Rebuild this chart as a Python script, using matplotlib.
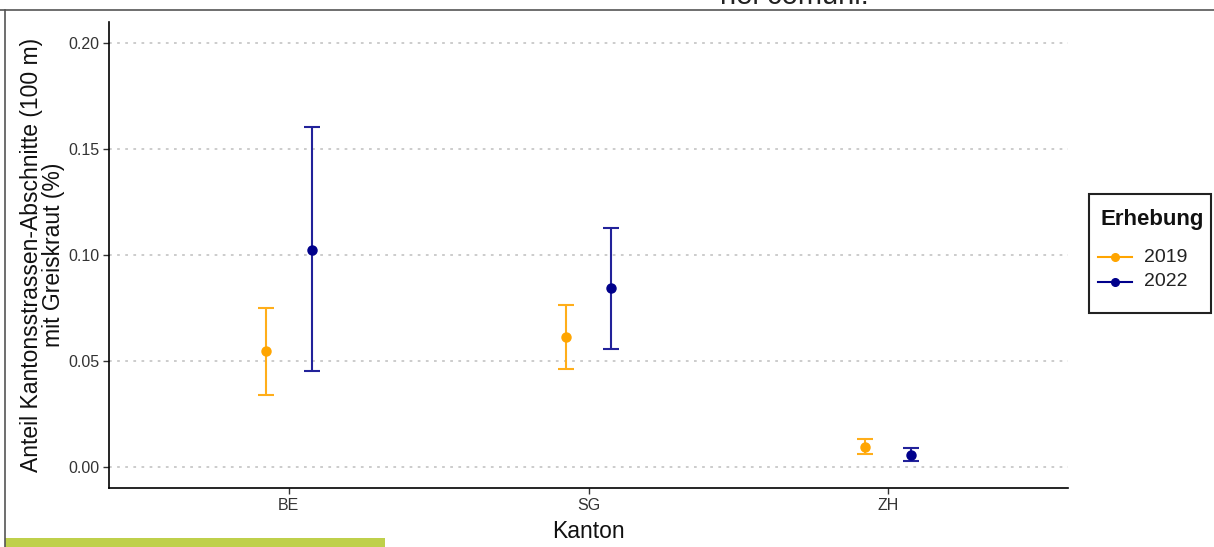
import matplotlib
matplotlib.use("Agg")
import matplotlib.pyplot as plt
from matplotlib.lines import Line2D
from matplotlib.patches import Rectangle
import numpy as np

plt.rcParams['font.family'] = ['Liberation Sans', 'DejaVu Sans']

kantone = ["BE", "SG", "ZH"]
jahre = ["2019", "2022"]
werte_2019 = [0.0547, 0.0613, 0.0095]
unten_2019 = [0.0339, 0.0463, 0.0062]
oben_2019 = [0.0752, 0.0762, 0.0130]
werte_2022 = [0.1024, 0.0842, 0.0058]
unten_2022 = [0.0452, 0.0557, 0.0026]
oben_2022 = [0.1605, 0.1128, 0.0090]
y_ticks = [0.00, 0.05, 0.10, 0.15, 0.20]
y_ticklabels = ["0.00", "0.05", "0.10", "0.15", "0.20"]

farben = {"2019": "#FFA500", "2022": "#00008B"}
linienfarben = {"2019": "#FFAE1A", "2022": "#22229A"}

W, H = 1214, 547
fig = plt.figure(figsize=(W / 100, H / 100), dpi=100)
ax = fig.add_axes([109 / W, 1 - 488 / H, (1068 - 109) / W, (488 - 22) / H])

x = np.arange(1, len(kantone) + 1)
dodge = 0.076
series = [
    ("2019", werte_2019, unten_2019, oben_2019, -dodge),
    ("2022", werte_2022, unten_2022, oben_2022, dodge),
]
for jahr, w, lo, hi, off in series:
    w = np.array(w); lo = np.array(lo); hi = np.array(hi)
    ax.errorbar(x + off, w, yerr=[w - lo, hi - w], fmt="o", color=farben[jahr],
                ecolor=linienfarben[jahr], elinewidth=1.5, capsize=5.5, capthick=1.5,
                markersize=6.5, zorder=3)

ax.set_xlim(0.4, 3.6)
ax.set_ylim(-0.01, 0.21)
ax.set_xticks(x)
ax.set_xticklabels(kantone, fontsize=11.5, color="#333333")
ax.set_yticks(y_ticks)
ax.set_yticklabels(y_ticklabels, fontsize=11.5, color="#333333")
ax.tick_params(axis="both", length=4, width=1, color="#333333", pad=3)
for yt in y_ticks:
    ax.axhline(yt, color="#C8C8C8", linewidth=1.3, linestyle=(0, (1.5, 3)), zorder=1)
for s in ["top", "right"]:
    ax.spines[s].set_visible(False)
for s in ["left", "bottom"]:
    ax.spines[s].set_linewidth(1.2)
    ax.spines[s].set_color("black")

ax.set_xlabel("Kanton", fontsize=16.5, labelpad=5, color="#111111")
ax.set_ylabel("Anteil Kantonsstrassen-Abschnitte (100 m)\nmit Greiskraut (%)",
              fontsize=16.5, labelpad=2, linespacing=0.95, color="#111111")

# legend drawn manually in figure pixel coordinates
def fx(px):
    return px / W

def fy(py):
    return 1 - py / H

fig.add_artist(Rectangle((fx(1089), fy(313)), (1211 - 1089) / W, (313 - 194) / H,
                         transform=fig.transFigure, facecolor="white",
                         edgecolor="#222222", linewidth=1.5))
fig.text(fx(1101), fy(220), "Erhebung", fontsize=16, fontweight="bold",
         ha="left", va="center", color="#111111")
for i, jahr in enumerate(jahre):
    yy = fy(257 + 25 * i)
    fig.add_artist(Line2D([fx(1098), fx(1132)], [yy, yy], transform=fig.transFigure,
                          color=farben[jahr], linewidth=1.5))
    fig.add_artist(Line2D([fx(1115)], [yy], transform=fig.transFigure,
                          color=farben[jahr], marker="o", markersize=5.5, linestyle="none"))
    fig.text(fx(1144), yy, jahr, fontsize=14, ha="left", va="center", color="#222222")

# surrounding screenshot elements
fig.add_artist(Line2D([5 / W, 5 / W], [0, 1 - 10 / H], transform=fig.transFigure,
                      color="#555555", linewidth=1.2))
fig.add_artist(Line2D([0, 1], [1 - 10 / H, 1 - 10 / H], transform=fig.transFigure,
                      color="#555555", linewidth=1.2))
fig.add_artist(Rectangle((5 / W, 0), (385 - 5) / W, 9 / H, transform=fig.transFigure,
                         facecolor="#BFD04B", edgecolor="none"))
fig.text(794 / W, 1 - 4 / H, "nei comuni.", fontsize=21, ha="center", va="baseline",
         color="#222222")

fig.savefig("out.png", dpi=100)
